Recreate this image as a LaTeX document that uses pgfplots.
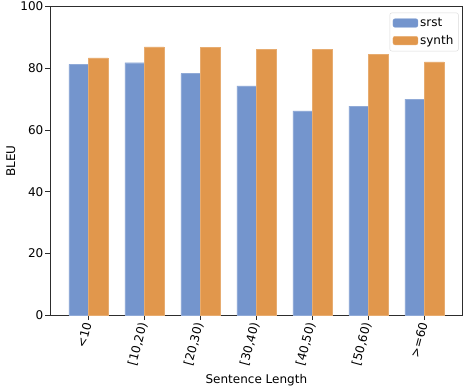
\documentclass[border=0pt]{standalone}
\usepackage{pgfplots}
\pgfplotsset{compat=1.18}
\usepackage{fontspec}
\setmainfont{DejaVu Sans}
\definecolor{cblue}{RGB}{116,149,205}
\definecolor{corange}{RGB}{225,151,76}
\definecolor{spine}{RGB}{45,45,45}
\begin{document}
\fontsize{12}{14}\selectfont
\begin{tikzpicture}
\begin{axis}[
  scale only axis,
  width=412.7pt, height=308.7pt,
  font=\fontsize{12}{14}\selectfont,
  xmin=-0.685, xmax=6.685,
  ymin=0, ymax=100,
  ytick={0,20,40,60,80,100},
  xtick={0,1,2,3,4,5,6},
  xticklabels={{<10},{[10,20)},{[20,30)},{[30,40)},{[40,50)},{[50,60)},{>=60}},
  xticklabel style={rotate=75, anchor=east, inner sep=3pt},
  yticklabel style={inner sep=2pt},
  xtick pos=bottom, ytick pos=left,
  tick align=outside,
  major tick length=4.5pt,
  every tick/.style={spine, line width=0.9pt},
  axis line style={spine, line width=0.9pt},
  /pgf/number format/assume math mode=true,
  xlabel={Sentence Length},
  ylabel={BLEU},
  ylabel style={yshift=-1pt},
  xlabel style={yshift=0pt},
  legend style={at={(rel axis cs:0.99,0.98)}, anchor=north east,
    draw=black!15, rounded corners=2pt,
    inner xsep=3pt, inner ysep=3pt, row sep=3pt},
  legend cell align=left,
  legend image code/.code={\fill[#1] (0pt,-4.3pt) rectangle (25pt,4.3pt);},
]
\addplot[ybar, bar width=0.35, bar shift=-0.175, fill=cblue, draw=cblue!80!white, line width=0.3pt]
  coordinates {(0,81.3) (1,81.8) (2,78.3) (3,74.3) (4,66.2) (5,67.7) (6,70.0)};
\addlegendentry{srst}
\addplot[ybar, bar width=0.35, bar shift=0.175, fill=corange, draw=corange!80!white, line width=0.3pt]
  coordinates {(0,83.4) (1,86.9) (2,86.7) (3,86.2) (4,86.1) (5,84.6) (6,82.1)};
\addlegendentry{synth}
\end{axis}
\path ([shift={(-50pt,-73.3pt)}]current axis.south west) rectangle ([shift={(3.3pt,6pt)}]current axis.north east);
\end{tikzpicture}
\end{document}
